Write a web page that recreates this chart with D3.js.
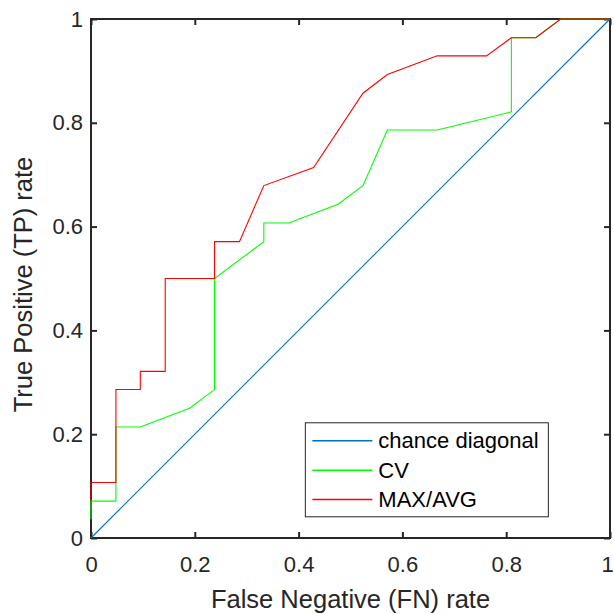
<!DOCTYPE html>
<html>
<head>
  <script src="https://d3js.org/d3.v7.min.js"></script>
  <style>
    body { margin: 0; background: #fff; }
    svg { display: block; font-family: "Liberation Sans", Arial, sans-serif; }
    .axis path { display: none; }
    .axis line { stroke: #262626; stroke-width: 2; }
    .axis text { font-size: 22px; fill: #262626; }
    .axis-label { font-size: 25.5px; fill: #262626; text-anchor: middle; }
    .legend text { font-size: 22px; fill: #000; }
  </style>
</head>
<body>
  <div id="chart"></div>
  <script>
    // tick values and labels
    const xTicks = [0, 0.2, 0.4, 0.6, 0.8, 1];
    const xTickLabels = ["0", "0.2", "0.4", "0.6", "0.8", "1"];
    const yTicks = [0, 0.2, 0.4, 0.6, 0.8, 1];
    const yTickLabels = ["0", "0.2", "0.4", "0.6", "0.8", "1"];

    // chance diagonal
    const diagX = [0, 1];
    const diagY = [0, 1];

    // CV curve
    const cvX = [0, 0, 0.048, 0.048, 0.095, 0.190, 0.238, 0.238, 0.333, 0.333, 0.381, 0.476, 0.524, 0.571, 0.667, 0.810, 0.810, 0.857, 0.905, 1];
    const cvY = [0.036, 0.071, 0.071, 0.214, 0.214, 0.250, 0.286, 0.500, 0.571, 0.607, 0.607, 0.643, 0.679, 0.786, 0.786, 0.821, 0.964, 0.964, 1, 1];

    // MAX/AVG curve
    const maxX = [0, 0, 0.048, 0.048, 0.095, 0.095, 0.143, 0.143, 0.238, 0.238, 0.286, 0.333, 0.429, 0.524, 0.571, 0.667, 0.762, 0.810, 0.857, 0.905, 1];
    const maxY = [0.071, 0.107, 0.107, 0.286, 0.286, 0.321, 0.321, 0.500, 0.500, 0.571, 0.571, 0.679, 0.714, 0.857, 0.893, 0.929, 0.929, 0.964, 0.964, 1, 1];

    const seriesNames = ["chance diagonal", "CV", "MAX/AVG"];
    const seriesColors = ["#0072BD", "#00FF00", "#FF0000"];

    const margin = {top: 19, right: 4, bottom: 76, left: 91};
    const width = 614 - margin.left - margin.right;
    const height = 614 - margin.top - margin.bottom;

    const svg = d3.select("#chart")
      .append("svg")
        .attr("width", 614)
        .attr("height", 614)
      .append("g")
        .attr("transform", `translate(${margin.left},${margin.top})`);

    const x = d3.scaleLinear().domain([0, 1]).range([0, width]);
    const y = d3.scaleLinear().domain([0, 1]).range([height, 0]);

    // axes (ticks pointing inward, box on)
    const xAxis = svg.append("g")
      .attr("class", "axis")
      .attr("transform", `translate(0,${height})`)
      .call(d3.axisBottom(x).tickValues(xTicks).tickSize(-6).tickPadding(18)
        .tickFormat((d, i) => xTickLabels[i]));
    // keep the last label inside the page
    xAxis.selectAll(".tick text").filter(d => d === 1).attr("dx", -3);

    svg.append("g")
      .attr("class", "axis")
      .call(d3.axisLeft(y).tickValues(yTicks).tickSize(-6).tickPadding(8)
        .tickFormat((d, i) => yTickLabels[i]));

    svg.append("g")
      .attr("class", "axis")
      .call(d3.axisTop(x).tickValues(xTicks).tickSize(-6).tickFormat(""));

    svg.append("g")
      .attr("class", "axis")
      .attr("transform", `translate(${width},0)`)
      .call(d3.axisRight(y).tickValues(yTicks).tickSize(-6).tickFormat(""));

    svg.append("rect")
      .attr("width", width)
      .attr("height", height)
      .attr("fill", "none")
      .attr("stroke", "#262626")
      .attr("stroke-width", 2);

    // curves, drawn over the axes box
    const line = d3.line().x(d => x(d[0])).y(d => y(d[1]));
    const series = [
      d3.zip(diagX, diagY),
      d3.zip(cvX, cvY),
      d3.zip(maxX, maxY)
    ];

    svg.selectAll(".curve")
      .data(series)
      .enter()
      .append("path")
        .attr("class", "curve")
        .attr("d", line)
        .attr("fill", "none")
        .attr("stroke", (d, i) => seriesColors[i])
        .attr("stroke-width", 1.1);

    // axis labels
    svg.append("text")
      .attr("class", "axis-label")
      .attr("x", width / 2)
      .attr("y", height + 70)
      .text("False Negative (FN) rate");

    svg.append("text")
      .attr("class", "axis-label")
      .attr("transform", "rotate(-90)")
      .attr("x", -(height / 2) - 6)
      .attr("y", -59)
      .text("True Positive (TP) rate");

    // legend
    const legend = svg.append("g")
      .attr("class", "legend")
      .attr("transform", `translate(${x(0.413)},${y(0.222)})`);

    legend.append("rect")
      .attr("width", 243)
      .attr("height", 94)
      .attr("fill", "#fff")
      .attr("stroke", "#262626")
      .attr("stroke-width", 1);

    const rows = legend.selectAll(".row")
      .data(seriesNames)
      .enter()
      .append("g")
        .attr("transform", (d, i) => `translate(0,${18 + i * 29.4})`);

    rows.append("line")
      .attr("x1", 7).attr("x2", 67)
      .attr("stroke", (d, i) => seriesColors[i])
      .attr("stroke-width", 1.5);

    rows.append("text")
      .attr("x", 73)
      .attr("dy", "0.35em")
      .text(d => d);
  </script>
</body>
</html>
